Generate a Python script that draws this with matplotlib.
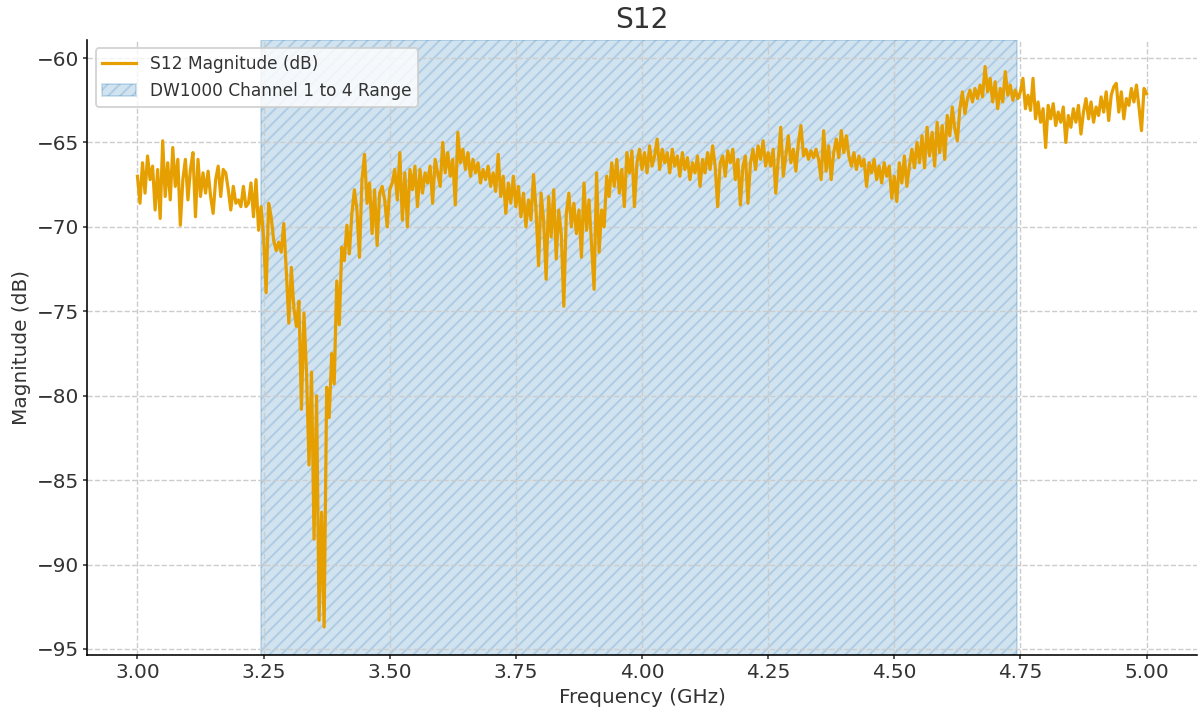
import numpy as np
import matplotlib
matplotlib.use("Agg")
import matplotlib.pyplot as plt

# frequency sweep, 3.0 to 5.0 GHz in 5 MHz steps
freq_start_ghz = 3.0
freq_stop_ghz = 5.0

# S12 magnitude in dB, below the DW1000 band (3.000 - 3.245 GHz)
s12_below_band = [
    -67.0, -68.6, -66.2, -68.0, -65.8, -67.2, -66.4, -69.0, -66.6, -69.5,
    -64.9, -68.2, -66.2, -68.4, -65.3, -67.6, -66.0, -69.9, -67.2, -66.0,
    -68.4, -66.6, -65.6, -69.4, -66.0, -68.2, -66.8, -68.0, -66.7, -68.2,
    -69.2, -67.2, -66.4, -68.2, -66.6, -66.8, -67.8, -69.0, -67.6, -68.6,
    -68.4, -68.8, -67.6, -68.8, -68.6, -67.4, -69.4, -67.2, -70.2, -68.8,
]

# inside the band (3.250 - 4.750 GHz)
s12_band = [
    -70.6, -73.9, -68.6, -69.4, -70.8, -71.4, -70.9, -71.5, -69.8, -72.6,
    -75.7, -72.4, -74.8, -75.9, -74.4, -80.8, -75.1, -78.6, -84.1, -78.6,
    -88.5, -80.0, -93.3, -86.9, -93.7, -79.5, -81.3, -77.5, -79.3, -73.2,
    -75.8, -71.2, -72.0, -69.9, -71.6, -69.2, -67.8, -69.0, -71.8, -67.2,
    -65.7, -68.6, -67.4, -70.4, -67.8, -71.1, -68.0, -67.6, -68.4, -70.0,
    -67.8, -67.4, -66.6, -68.4, -65.6, -69.6, -66.8, -70.0, -66.6, -67.8,
    -66.4, -68.8, -66.6, -68.0, -66.8, -67.4, -66.4, -68.6, -66.0, -66.8,
    -67.6, -65.0, -66.8, -65.6, -67.0, -66.0, -68.7, -64.4, -66.2, -65.4,
    -66.6, -65.6, -67.0, -66.0, -66.8, -66.2, -67.4, -66.6, -67.2, -66.4,
    -67.6, -66.8, -67.9, -65.7, -68.2, -67.0, -69.2, -67.4, -68.6, -67.0,
    -68.8, -67.6, -69.4, -68.0, -70.0, -68.4, -69.6, -66.9, -69.0, -72.3,
    -68.0, -69.6, -73.1, -68.2, -70.6, -67.8, -71.9, -69.0, -70.4, -74.7,
    -69.2, -68.0, -70.0, -68.6, -70.4, -69.0, -71.8, -67.4, -70.2, -68.4,
    -71.0, -73.7, -66.8, -71.5, -69.0, -70.0, -67.0, -68.2, -66.2, -67.6,
    -66.0, -68.0, -66.6, -68.8, -65.6, -66.8, -65.5, -68.8, -66.2, -65.4,
    -66.6, -65.6, -66.8, -65.2, -66.4, -65.8, -64.8, -66.6, -65.4, -66.2,
    -65.6, -66.8, -65.4, -66.4, -65.8, -67.0, -65.6, -66.6, -65.9, -67.2,
    -66.2, -66.8, -65.8, -67.6, -66.0, -66.8, -65.6, -66.6, -65.2, -66.4,
    -68.8, -66.2, -65.8, -67.0, -65.5, -66.2, -65.4, -67.2, -66.0, -68.7,
    -66.4, -65.8, -68.6, -66.2, -65.4, -66.6, -65.2, -66.0, -64.9, -66.4,
    -65.6, -66.4, -65.4, -68.0, -66.0, -64.1, -67.0, -65.8, -64.6, -66.2,
    -65.4, -66.7, -65.0, -64.0, -65.8, -65.4, -66.0, -65.5, -65.9, -65.4,
    -66.0, -67.2, -64.3, -66.7, -65.2, -67.2, -65.6, -64.8, -65.9, -64.3,
    -65.6, -64.6, -65.8, -66.4, -65.6, -66.6, -65.8, -66.4, -66.0, -67.6,
    -66.2, -66.8, -66.0, -67.2, -66.4, -67.4, -66.2, -67.0, -66.4, -68.3,
    -67.0, -68.5, -66.2, -67.4, -65.8, -67.6, -66.4, -65.4, -66.5, -65.0,
    -66.2, -64.6, -66.5, -64.1, -65.8, -64.4, -66.4, -63.8, -65.6, -64.0,
    -66.0, -63.4, -64.6, -62.9, -64.2, -64.9, -63.0, -62.0, -63.3, -62.4,
    -61.9, -62.6, -61.8, -62.4, -61.6, -62.3, -60.5, -62.0, -61.2, -62.6,
    -61.4, -63.0, -61.8, -62.6, -60.8, -62.2, -61.6, -62.5, -61.9, -62.4,
    -62.0,
]

# above the band (4.755 - 5.000 GHz)
s12_above_band = [
    -61.2, -63.0, -62.2, -63.1, -61.2, -63.6, -62.6, -63.8, -63.0, -65.3,
    -62.8, -63.6, -62.7, -64.0, -63.2, -63.8, -62.9, -65.0, -63.4, -64.1,
    -63.0, -63.8, -62.8, -64.5, -63.2, -62.4, -63.6, -62.6, -63.8, -62.9,
    -63.4, -62.3, -63.2, -62.0, -63.7, -62.2, -61.7, -61.5, -63.2, -62.0,
    -63.6, -62.4, -62.8, -61.8, -62.6, -61.6, -62.9, -64.3, -61.8, -62.1,
]

# DW1000 channels 1-4: lower edge of ch1 to upper edge of ch3/ch4 (GHz)
band_start_ghz = 3.2448
band_stop_ghz = 4.7424
line_label = "S12 Magnitude (dB)"
band_label = "DW1000 Channel 1 to 4 Range"
xtick_values = [3.00, 3.25, 3.50, 3.75, 4.00, 4.25, 4.50, 4.75, 5.00]
ytick_values = [-95, -90, -85, -80, -75, -70, -65, -60]

s12_db = np.array(s12_below_band + s12_band + s12_above_band)
freq_ghz = np.linspace(freq_start_ghz, freq_stop_ghz, len(s12_db))

text_color = "#333333"
plt.rcParams["font.family"] = ["DejaVu Sans"]
plt.rcParams["text.color"] = text_color
plt.rcParams["axes.labelcolor"] = text_color
plt.rcParams["xtick.color"] = text_color
plt.rcParams["ytick.color"] = text_color
plt.rcParams["hatch.linewidth"] = 1.0

fig = plt.figure(figsize=(1200 / 144, 713 / 144), dpi=144)
ax = fig.add_axes([0.0725, 0.0813, 0.925, 0.8626])

ax.plot(freq_ghz, s12_db, color="#E69F00", linewidth=1.6, label=line_label, zorder=3)
ax.axvspan(band_start_ghz, band_stop_ghz, color="#1f77b4", alpha=0.2,
           hatch="////", label=band_label, zorder=0.3)

ax.set_title("S12", fontsize=14, color=text_color)
ax.set_xlabel("Frequency (GHz)", fontsize=10, labelpad=3)
ax.set_ylabel("Magnitude (dB)", fontsize=10, labelpad=3)
ax.set_xticks(xtick_values)
ax.set_yticks(ytick_values)
ax.set_xlim(2.9, 5.1)
ax.set_ylim(-95.36, -58.93)
ax.tick_params(labelsize=10, length=2, pad=2)
ax.tick_params(axis="x", colors=text_color)
ax.tick_params(axis="y", colors=text_color)

# grid sits above the shaded band but under the trace
ax.set_axisbelow(True)
ax.grid(True, linestyle="--", color="#cccccc", linewidth=0.7)
for side in ("top", "right"):
    ax.spines[side].set_visible(False)
for side in ("left", "bottom"):
    ax.spines[side].set_color("black")

ax.legend(loc="upper left", fontsize=8.5, framealpha=0.8, edgecolor="#cccccc")

fig.savefig("out.png", dpi=144)
